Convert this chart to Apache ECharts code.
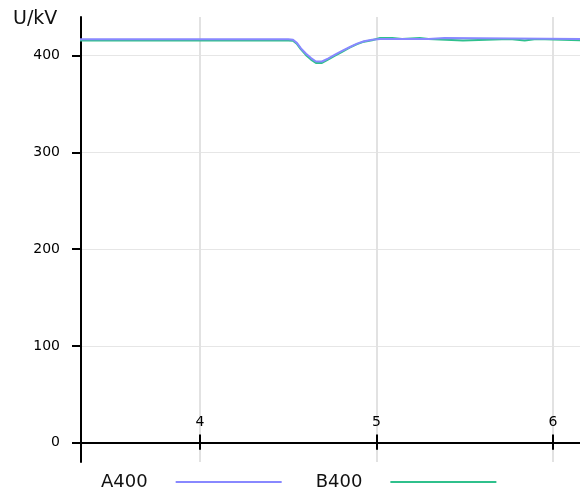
<!DOCTYPE html>
<html>
<head>
<meta charset="utf-8">
<script src="https://cdn.jsdelivr.net/npm/echarts@6/dist/echarts.min.js"></script>
<style>
  html, body { margin: 0; padding: 0; background: #fff; }
  #chart { width: 580px; height: 493px; }
</style>
</head>
<body>
<div id="chart"></div>
<script>
// Time axis (s) and bus voltages (kV)
const timeA = [3.30, 4.50, 4.527, 4.55, 4.572, 4.601, 4.629, 4.657, 4.691, 4.725, 4.765, 4.805, 4.85, 4.89, 4.929, 4.975, 5.02, 5.295, 5.305, 5.385, 5.395, 6.2];
const voltA = [417, 417, 416.5, 413, 407.5, 402, 397.5, 394, 394, 397, 401, 405, 409, 412.5, 415, 416.5, 417.3, 417.3, 418.3, 418.3, 417.3, 417.3];

const timeB = [3.30, 4.50, 4.527, 4.55, 4.572, 4.601, 4.629, 4.657, 4.691, 4.725, 4.765, 4.805, 4.85, 4.89, 4.929, 4.975, 5.02, 5.09, 5.10, 5.145, 5.155, 5.245, 5.255, 5.295, 5.305, 5.49, 5.50, 5.755, 5.765, 5.84, 5.85, 5.905, 5.915, 6.2];
const voltB = [415.8, 415.8, 415.5, 412, 406.5, 400.5, 396, 392.5, 392.5, 396, 400, 404, 408.5, 412, 414.5, 416, 418.3, 418.3, 417.3, 417.3, 418.3, 418.3, 417.3, 417.3, 415.8, 415.8, 417.3, 417.3, 415.8, 415.8, 417.3, 417.3, 415.8, 415.8];

const seriesNames = ['A400', 'B400'];
const xTicks = [4, 5, 6];
const yTicks = [0, 100, 200, 300, 400];
const yUnit = 'U/kV';

const pairs = (t, v) => t.map((x, i) => [x, v[i]]);
const FONT = 'DejaVu Sans';
const colA = '#8888ff';
const colB = '#2fc08c';

const chart = echarts.init(document.getElementById('chart'), null, { renderer: 'canvas' });
chart.setOption({
  animation: false,
  backgroundColor: '#ffffff',
  title: {
    text: yUnit,
    left: 13, top: 10,
    padding: 0,
    textStyle: { fontFamily: FONT, fontSize: 19, fontWeight: 'normal', color: '#111' }
  },
  grid: { left: 81, right: 0, top: 17, height: 445 },
  legend: {
    data: seriesNames,
    left: 101, top: 473,
    padding: 0,
    align: 'right',
    icon: 'rect',
    itemWidth: 106, itemHeight: 2,
    itemGap: 34,
    textStyle: { fontFamily: FONT, fontSize: 18, color: '#111', padding: [0, 23, 0, 0] }
  },
  xAxis: [
    {
      type: 'value',
      min: 3.3258, max: 6.153,
      axisLine: { onZero: true, lineStyle: { color: '#000', width: 2 } },
      axisTick: { show: true, customValues: xTicks, length: 7, lineStyle: { color: '#000', width: 2 } },
      axisLabel: { inside: true, margin: 33, customValues: xTicks, fontFamily: FONT, fontSize: 14, color: '#000' },
      splitLine: { show: true, lineStyle: { color: '#e2e2e2', width: 2 } }
    },
    {
      // upper half of the crossing ticks on the zero line
      type: 'value',
      min: 3.3258, max: 6.153,
      position: 'top',
      offset: -425.6,
      axisLine: { show: false, onZero: false },
      axisTick: { show: true, customValues: xTicks, length: 8, lineStyle: { color: '#000', width: 2 } },
      axisLabel: { show: false },
      splitLine: { show: false }
    }
  ],
  yAxis: {
    type: 'value',
    min: -20, max: 440,
    axisLine: { show: true, lineStyle: { color: '#000', width: 2 } },
    axisTick: { show: true, customValues: yTicks, length: 9, lineStyle: { color: '#000', width: 2 } },
    axisLabel: { customValues: yTicks, margin: 21, fontFamily: FONT, fontSize: 14, color: '#000' },
    splitLine: { show: true, lineStyle: { color: '#e6e6e6', width: 1 } }
  },
  series: [
    {
      name: seriesNames[1], type: 'line', xAxisIndex: 0,
      data: pairs(timeB, voltB),
      showSymbol: false, symbol: 'none',
      itemStyle: { color: colB },
      lineStyle: { color: colB, width: 2 }
    },
    {
      name: seriesNames[0], type: 'line', xAxisIndex: 0,
      data: pairs(timeA, voltA),
      showSymbol: false, symbol: 'none',
      itemStyle: { color: colA },
      lineStyle: { color: colA, width: 2 }
    }
  ]
});
</script>
</body>
</html>
